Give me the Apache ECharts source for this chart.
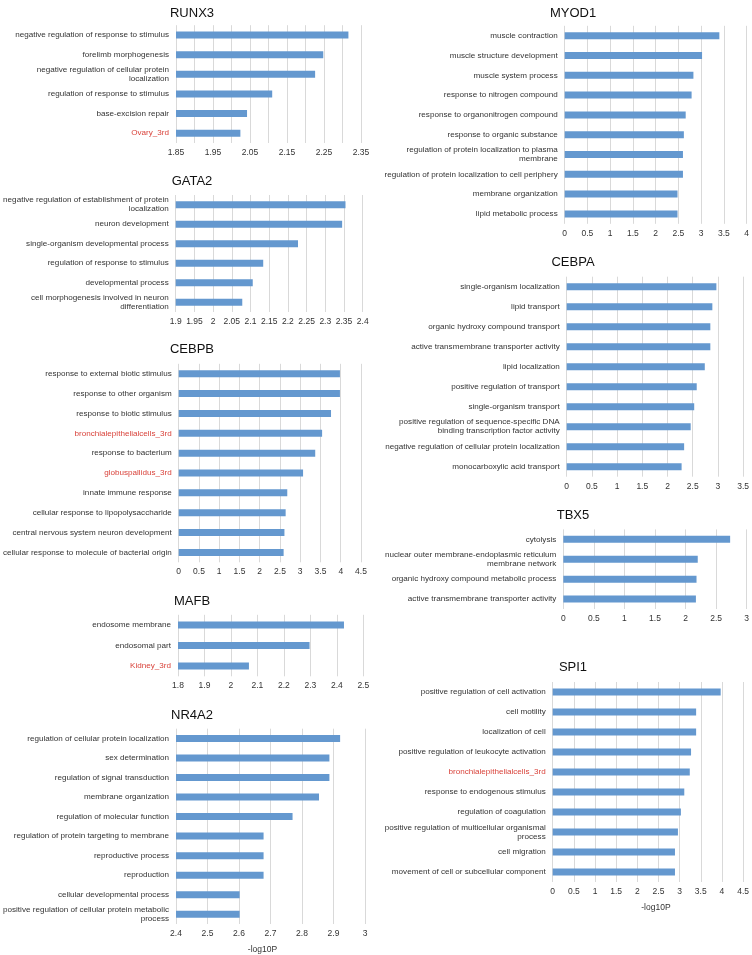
<!DOCTYPE html>
<html><head><meta charset="utf-8">
<script src="https://cdn.jsdelivr.net/npm/echarts@6/dist/echarts.min.js"></script>
<style>html,body{margin:0;padding:0;background:#fff}#c{width:752px;height:955px}</style>
</head><body><div id="c"></div>
<script>
// ---------- DATA ----------
const runx3Categories = ['negative regulation of response to stimulus','forelimb morphogenesis','negative regulation of cellular protein\nlocalization','regulation of response to stimulus','base-excision repair','Ovary_3rd'];
const runx3Values = [2.316, 2.248, 2.226, 2.110, 2.042, 2.024];

const gata2Categories = ['negative regulation of establishment of protein\nlocalization','neuron development','single-organism developmental process','regulation of response to stimulus','developmental process','cell morphogenesis involved in neuron\ndifferentiation'];
const gata2Values = [2.354, 2.345, 2.227, 2.134, 2.106, 2.078];

const cebpbCategories = ['response to external biotic stimulus','response to other organism','response to biotic stimulus','bronchialepithelialcells_3rd','response to bacterium','globuspallidus_3rd','innate immune response','cellular response to lipopolysaccharide','central nervous system neuron development','cellular response to molecule of bacterial origin'];
const cebpbValues = [3.98, 3.98, 3.76, 3.54, 3.37, 3.07, 2.68, 2.64, 2.61, 2.59];

const mafbCategories = ['endosome membrane','endosomal part','Kidney_3rd'];
const mafbValues = [2.427, 2.297, 2.068];

const nr4a2Categories = ['regulation of cellular protein localization','sex determination','regulation of signal transduction','membrane organization','regulation of molecular function','regulation of protein targeting to membrane','reproductive process','reproduction','cellular developmental process','positive regulation of cellular protein metabolic\nprocess'];
const nr4a2Values = [2.921, 2.887, 2.887, 2.854, 2.770, 2.678, 2.678, 2.678, 2.602, 2.602];

const myod1Categories = ['muscle contraction','muscle structure development','muscle system process','response to nitrogen compound','response to organonitrogen compound','response to organic substance','regulation of protein localization to plasma\nmembrane','regulation of protein localization to cell periphery','membrane organization','lipid metabolic process'];
const myod1Values = [3.40, 3.02, 2.83, 2.79, 2.66, 2.62, 2.60, 2.60, 2.48, 2.48];

const cebpaCategories = ['single-organism localization','lipid transport','organic hydroxy compound transport','active transmembrane transporter activity','lipid localization','positive regulation of transport','single-organism transport','positive regulation of sequence-specific DNA\nbinding transcription factor activity','negative regulation of cellular protein localization','monocarboxylic acid transport'];
const cebpaValues = [2.97, 2.89, 2.85, 2.85, 2.74, 2.58, 2.53, 2.46, 2.33, 2.28];

const tbx5Categories = ['cytolysis','nuclear outer membrane-endoplasmic reticulum\nmembrane network','organic hydroxy compound metabolic process','active transmembrane transporter activity'];
const tbx5Values = [2.73, 2.20, 2.18, 2.17];

const spi1Categories = ['positive regulation of cell activation','cell motility','localization of cell','positive regulation of leukocyte activation','bronchialepithelialcells_3rd','response to endogenous stimulus','regulation of coagulation','positive regulation of multicellular organismal\nprocess','cell migration','movement of cell or subcellular component'];
const spi1Values = [3.97, 3.39, 3.39, 3.27, 3.24, 3.11, 3.03, 2.96, 2.89, 2.89];

const highlightedTerms = ['Ovary_3rd','bronchialepithelialcells_3rd','globuspallidus_3rd','Kidney_3rd'];
const axisName = '-log10P';

// ---------- LAYOUT ----------
const FONT = "'Liberation Sans', Arial, Helvetica, sans-serif";
const BAR = '#6498cf';
const RED = '#d9433b';
const panels = [
  {name:'RUNX3', cats:runx3Categories, vals:runx3Values, min:1.85, max:2.35, interval:0.05, every:2, digits:2, box:[176,25.2,185,117.8], t:[187,9]},
  {name:'GATA2', cats:gata2Categories, vals:gata2Values, min:1.9, max:2.4, interval:0.05, every:1, box:[175.7,195,187,117], t:[187,177]},
  {name:'CEBPB', cats:cebpbCategories, vals:cebpbValues, min:0, max:4.5, interval:0.5, every:1, box:[178,363.8,183,198.5], t:[187,345]},
  {name:'MAFB', cats:mafbCategories, vals:mafbValues, min:1.8, max:2.5, interval:0.1, every:1, box:[178,614.8,185.3,61.5], t:[187,597]},
  {name:'NR4A2', cats:nr4a2Categories, vals:nr4a2Values, min:2.4, max:3, interval:0.1, every:1, box:[175.7,728.7,189.3,199], t:[187,711], xname:true, namePad:[0,16,0,0]},
  {name:'MYOD1', cats:myod1Categories, vals:myod1Values, min:0, max:4, interval:0.5, every:1, box:[564.7,25.8,183,198], t:[568,9]},
  {name:'CEBPA', cats:cebpaCategories, vals:cebpaValues, min:0, max:3.5, interval:0.5, every:1, box:[566.7,276.7,177.6,200], t:[568,258]},
  {name:'TBX5', cats:tbx5Categories, vals:tbx5Values, min:0, max:3, interval:0.5, every:1, box:[563.3,529.4,183.7,79.6], t:[568,511]},
  {name:'SPI1', cats:spi1Categories, vals:spi1Values, min:0, max:4.5, interval:0.5, every:1, box:[552.7,682,191.6,200], t:[568,663], xname:true, namePad:[0,0,0,16]}
];

const option = {animation:false, backgroundColor:'#fff', title:[], grid:[], xAxis:[], yAxis:[], series:[]};
panels.forEach((p,i)=>{
  option.title.push({text:p.name, left:p.t[0], top:p.t[1]-7.5, textAlign:'center',
    textStyle:{fontFamily:FONT, fontSize:13, fontWeight:'normal', color:'#111'}});
  option.grid.push({left:p.box[0], top:p.box[1], width:p.box[2], height:p.box[3], containLabel:false});
  const xa = {type:'value', gridIndex:i, min:p.min, max:p.max, interval:p.interval,
    axisLine:{show:false}, axisTick:{show:false},
    splitLine:{show:true, lineStyle:{color:'#d9d9d9', width:1}},
    axisLabel:{fontFamily:FONT, fontSize:8.5, color:'#333', margin:5,
      formatter:(v,idx)=>{ if (idx % p.every !== 0) return ''; return p.digits ? v.toFixed(p.digits) : String(+v.toFixed(3)); }}};
  if (p.xname) {
    xa.name = axisName; xa.nameLocation = 'middle'; xa.nameGap = 21;
    xa.nameTextStyle = {fontFamily:FONT, fontSize:8.5, color:'#333', padding:p.namePad};
  }
  option.xAxis.push(xa);
  option.yAxis.push({type:'category', gridIndex:i, inverse:true,
    data:p.cats.map(c=> highlightedTerms.includes(c) ? {value:c, textStyle:{color:RED}} : c),
    axisLine:{show:false}, axisTick:{show:false}, splitLine:{show:false},
    axisLabel:{fontFamily:FONT, fontSize:8.1, color:'#333', margin:7, lineHeight:9, interval:0}});
  option.series.push({type:'bar', xAxisIndex:i, yAxisIndex:i, data:p.vals, barWidth:7,
    itemStyle:{color:BAR}, silent:true});
});
const chart = echarts.init(document.getElementById('c'), null, {renderer:'canvas'});
chart.setOption(option);
</script></body></html>
